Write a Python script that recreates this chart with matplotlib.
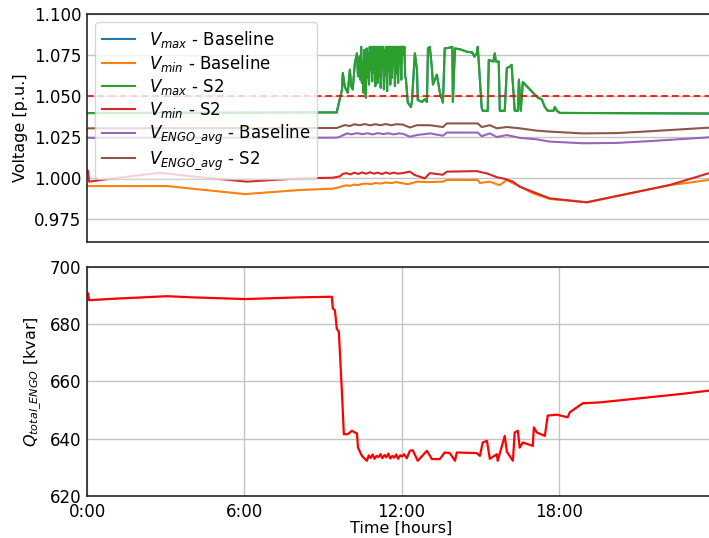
import matplotlib
matplotlib.use("Agg")
import matplotlib.pyplot as plt

# ---------------- data (hours, values) ----------------
t_vmax = [0.0, 9.53, 9.57, 9.73, 9.76, 9.84, 9.95, 10.03, 10.08, 10.14, 10.22, 10.30, 10.34,
          10.40, 10.43, 10.46, 10.49, 10.52, 10.55, 10.58, 10.61, 10.64, 10.67,
          10.70, 10.73, 10.76, 10.79, 10.82, 10.85, 10.88, 10.91, 10.94, 10.97,
          11.00, 11.03, 11.06, 11.09, 11.12, 11.15, 11.18, 11.21, 11.24, 11.27,
          11.30, 11.33, 11.36, 11.39, 11.42, 11.45, 11.48, 11.51, 11.54, 11.57,
          11.60, 11.63, 11.66, 11.69, 11.72, 11.75, 11.78, 11.81, 11.84, 11.87,
          11.90, 11.93, 11.96, 11.99, 12.02, 12.05, 12.08, 12.11, 12.14, 12.17,
          12.24, 12.36, 12.40,
          12.51, 12.59, 12.62, 12.78, 12.89, 12.97, 13.01, 13.08, 13.16, 13.20, 13.35, 13.46,
          13.58, 13.65, 13.84, 13.94, 13.96, 14.04, 14.23, 14.50, 14.70, 14.78, 14.87, 14.91,
          15.06, 15.10, 15.29, 15.33, 15.50, 15.56, 15.60, 15.71, 15.75, 15.94, 16.02, 16.13,
          16.20, 16.32, 16.44, 16.48, 16.55, 16.63, 17.20, 17.35, 17.47, 17.58, 17.80, 17.85,
          17.93, 18.04, 24.0]
v_vmax_s2 = [1.0396, 1.0400, 1.0430, 1.0540, 1.0640, 1.0555, 1.0520, 1.0660, 1.0560, 1.0540, 1.0700, 1.0760, 1.0620,
             1.074, 1.060, 1.080, 1.058, 1.071, 1.052, 1.078, 1.063, 1.049, 1.079,
             1.061, 1.076, 1.057, 1.080, 1.066, 1.080, 1.059, 1.080, 1.064, 1.080,
             1.056, 1.080, 1.070, 1.058, 1.080, 1.062, 1.080, 1.055, 1.080, 1.068,
             1.080, 1.054, 1.078, 1.063, 1.080, 1.053, 1.080, 1.066, 1.080, 1.057,
             1.080, 1.061, 1.080, 1.069, 1.080, 1.056, 1.080, 1.064, 1.080, 1.058,
             1.080, 1.072, 1.080, 1.060, 1.080, 1.080, 1.075, 1.080, 1.062, 1.060,
             1.0460, 1.0433, 1.0470,
             1.0760, 1.0660, 1.0476, 1.0464, 1.0480, 1.0464, 1.0790, 1.0800, 1.0670, 1.0570, 1.0630, 1.0525,
             1.0460, 1.0790, 1.0795, 1.0800, 1.0464, 1.0790, 1.0785, 1.0770, 1.0765, 1.0740, 1.0760, 1.0800,
             1.0427, 1.0410, 1.0410, 1.0720, 1.0710, 1.0760, 1.0710, 1.0710, 1.0410, 1.0410, 1.0670, 1.0680,
             1.0690, 1.0410, 1.0410, 1.0600, 1.0410, 1.0585, 1.0490, 1.0480, 1.0433, 1.0410, 1.0410, 1.0433,
             1.0410, 1.0397, 1.0393]
v_vmax_base = list(v_vmax_s2)

t_vmin_base = [0.0, 3.05, 6.03, 8.12, 9.38, 9.65, 9.76, 9.90, 10.05, 10.20, 10.35, 10.50, 10.68,
               10.85, 11.00, 11.20, 11.40, 11.60, 11.80, 12.05, 12.24, 12.59, 12.97, 13.58, 13.73,
               14.91, 14.99, 15.37, 15.64, 15.75, 16.02, 16.25, 16.44, 17.01, 17.66, 19.07, 22.23,
               22.50, 23.72, 24.0]
v_vmin_base = [0.9951, 0.9951, 0.9902, 0.9927, 0.9935, 0.9945, 0.9951, 0.9955, 0.9953, 0.9960, 0.9957, 0.9964, 0.9966,
               0.9962, 0.9970, 0.9966, 0.9973, 0.9969, 0.9975, 0.9968, 0.9962, 0.9978, 0.9975, 0.9978, 0.9988,
               0.9988, 0.9970, 0.9978, 0.9962, 0.9957, 0.9988, 0.9968, 0.9955, 0.9907, 0.9872, 0.9852, 0.9957,
               0.9962, 0.9988, 0.9990]

t_vmin_s2 = [0.0, 0.04, 0.08, 1.0, 2.78, 4.0, 6.10, 8.12, 9.38, 9.65, 9.76, 9.90, 10.05, 10.20, 10.35,
             10.50, 10.65, 10.80, 10.95, 11.10, 11.25, 11.40, 11.55, 11.70, 11.85, 12.05, 12.32, 12.51,
             12.89, 13.08, 13.58, 13.73, 14.87, 15.26, 15.64, 15.94, 16.25, 16.51, 17.01, 17.66, 19.07,
             22.23, 23.72, 24.0]
v_vmin_s2 = [1.0040, 1.0045, 0.9978, 0.9998, 1.0032, 1.0010, 0.9978, 0.9998, 1.0002, 1.0010, 1.0025, 1.0030, 1.0022, 1.0033, 1.0025,
             1.0034, 1.0026, 1.0035, 1.0027, 1.0033, 1.0024, 1.0034, 1.0026, 1.0033, 1.0027, 1.0030, 1.0039, 1.0018,
             0.9998, 1.0030, 1.0020, 1.0039, 1.0042, 1.0028, 1.0005, 0.9995, 0.9978, 0.9947, 0.9916, 0.9876, 0.9852,
             0.9957, 1.0029, 1.0030]

t_engo_base = [0.0, 9.53, 9.65, 9.92, 10.10, 10.30, 10.50, 10.70, 10.90, 11.10, 11.30, 11.50, 11.70,
               11.90, 12.05, 12.32, 12.59, 13.08, 13.58, 13.73, 14.91, 15.06, 15.37, 15.64, 16.02,
               16.51, 17.16, 17.66, 18.92, 20.21, 21.47, 23.72, 24.0]
v_engo_base = [1.0245, 1.0246, 1.0252, 1.0272, 1.0266, 1.0274, 1.0267, 1.0273, 1.0266, 1.0274, 1.0268, 1.0273, 1.0266,
               1.0272, 1.0270, 1.0252, 1.0262, 1.0272, 1.0258, 1.0277, 1.0277, 1.0255, 1.0272, 1.0250, 1.0262,
               1.0245, 1.0236, 1.0222, 1.0212, 1.0214, 1.0225, 1.0248, 1.0249]

t_engo_s2 = [0.0, 9.53, 9.84, 10.03, 10.20, 10.40, 10.60, 10.80, 11.00, 11.20, 11.40, 11.60, 11.80,
             12.05, 12.32, 12.59, 13.08, 13.58, 13.73, 14.91, 15.06, 15.37, 15.64, 16.02, 16.51,
             17.16, 17.66, 18.92, 20.21, 21.47, 23.72, 24.0]
v_engo_s2 = [1.0303, 1.0305, 1.0323, 1.0317, 1.0328, 1.0322, 1.0329, 1.0321, 1.0328, 1.0322, 1.0329, 1.0322, 1.0328,
             1.0326, 1.0308, 1.0322, 1.0322, 1.0311, 1.0333, 1.0333, 1.0311, 1.0322, 1.0303, 1.0311, 1.0303,
             1.0289, 1.0283, 1.0272, 1.0274, 1.0285, 1.0307, 1.0308]

v_limit = 1.05

t_q = [0.0, 0.04, 0.08, 1.0, 3.05, 4.0, 6.03, 8.12, 9.34, 9.38, 9.46, 9.53, 9.61, 9.73, 9.80, 9.95,
       10.11, 10.22, 10.30, 10.34, 10.49, 10.68, 10.75, 10.82, 10.90, 10.97, 11.05, 11.12, 11.20,
       11.27, 11.35, 11.42, 11.50, 11.57, 11.65, 11.72, 11.80, 11.87, 11.95, 12.02, 12.10, 12.20,
       12.32, 12.43, 12.62, 12.97, 13.16, 13.46, 13.65, 13.84, 14.04, 14.11, 14.87, 14.99, 15.10,
       15.26, 15.37, 15.64, 15.67, 15.94, 16.02, 16.25, 16.32, 16.44, 16.51, 16.63, 17.01, 17.05,
       17.16, 17.47, 17.58, 17.93, 18.34, 18.42, 18.54, 18.73, 18.92, 19.57, 21.47, 22.73, 23.72, 24.0]
q_total = [690.8, 690.8, 688.4, 688.9, 689.8, 689.4, 688.8, 689.4, 689.6, 685.5, 684.9, 678.5, 677.3, 655.7, 641.6, 641.6,
           642.8, 642.2, 641.9, 636.9, 634.0, 632.3, 634.2, 633.3, 634.5, 633.0, 634.0, 633.6, 634.6,
           633.2, 634.3, 633.5, 634.8, 633.1, 634.0, 633.4, 634.5, 633.0, 634.2, 633.8, 634.6, 633.2,
           635.8, 636.0, 632.3, 635.8, 632.9, 632.9, 635.2, 635.0, 632.3, 635.2, 635.0, 634.0, 638.7,
           639.3, 633.0, 634.6, 632.3, 641.0, 635.5, 632.3, 642.2, 642.8, 636.9, 638.7, 637.5, 644.0,
           642.2, 641.0, 648.1, 648.4, 647.5, 649.2, 650.0, 651.2, 652.4, 652.7, 654.5, 655.7, 656.8, 657.0]

xticks = [0, 6, 12, 18]
xtick_labels = ["0:00", "6:00", "12:00", "18:00"]
v_ticks = [0.975, 1.000, 1.025, 1.050, 1.075, 1.100]
q_ticks = [620, 640, 660, 680, 700]

# ---------------- figure ----------------
plt.rcParams['font.family'] = ['DejaVu Sans']
fig = plt.figure(figsize=(7.09, 5.38), dpi=100)
W, H = 709, 538
left = 87 / W
width = (716 - 87) / W
ax1 = fig.add_axes([left, 1 - 242 / H, width, (242 - 14) / H])
ax2 = fig.add_axes([left, 1 - 496 / H, width, (496 - 267) / H])

lw = 1.5
ax1.plot(t_vmax, v_vmax_base, color='tab:blue', lw=lw, label=r'$V_{max}$ - Baseline')
ax1.plot(t_vmin_base, v_vmin_base, color='tab:orange', lw=lw, label=r'$V_{min}$ - Baseline')
ax1.plot(t_vmax, v_vmax_s2, color='tab:green', lw=lw, label=r'$V_{max}$ - S2')
ax1.plot(t_vmin_s2, v_vmin_s2, color='tab:red', lw=lw, label=r'$V_{min}$ - S2')
ax1.plot(t_engo_base, v_engo_base, color='tab:purple', lw=lw, label=r'$V_{ENGO\_avg}$ - Baseline')
ax1.plot(t_engo_s2, v_engo_s2, color='tab:brown', lw=lw, label=r'$V_{ENGO\_avg}$ - S2')
ax1.axhline(v_limit, color='red', ls='--', lw=1.2, dashes=(4, 2.5))

ax1.set_xlim(0, 24)
ax1.set_ylim(0.961, 1.1)
ax1.set_yticks(v_ticks)
ax1.set_yticklabels([f"{v:.3f}" for v in v_ticks])
ax1.set_xticks(xticks)
ax1.tick_params(axis='x', labelbottom=False)
ax1.grid(axis='y', color='#c4c4c4', lw=1.0)
ax1.set_axisbelow(True)
ax1.set_ylabel('Voltage [p.u.]', fontsize=11.5)
leg = ax1.legend(loc='upper left', fontsize=12, framealpha=0.8, edgecolor='#cccccc',
                 borderaxespad=0.5, handlelength=2.0, labelspacing=0.18)

ax2.plot(t_q, q_total, color='red', lw=1.6)
ax2.set_xlim(0, 24)
ax2.set_ylim(620, 700)
ax2.set_yticks(q_ticks)
ax2.set_xticks(xticks)
ax2.set_xticklabels(xtick_labels)
ax2.grid(True, color='#c4c4c4', lw=1.0)
ax2.set_axisbelow(True)
ax2.set_ylabel(r'$Q_{total\_ENGO}$ [kvar]', fontsize=11.5)
ax2.set_xlabel('Time [hours]', fontsize=11.5, labelpad=0)

for ax in (ax1, ax2):
    ax.tick_params(length=0, labelsize=12, pad=4, colors='black')
    for s in ax.spines.values():
        s.set_color('#262626')
        s.set_linewidth(1.2)
ax2.tick_params(axis='x', pad=5)

fig.savefig('out.png', dpi=100)
